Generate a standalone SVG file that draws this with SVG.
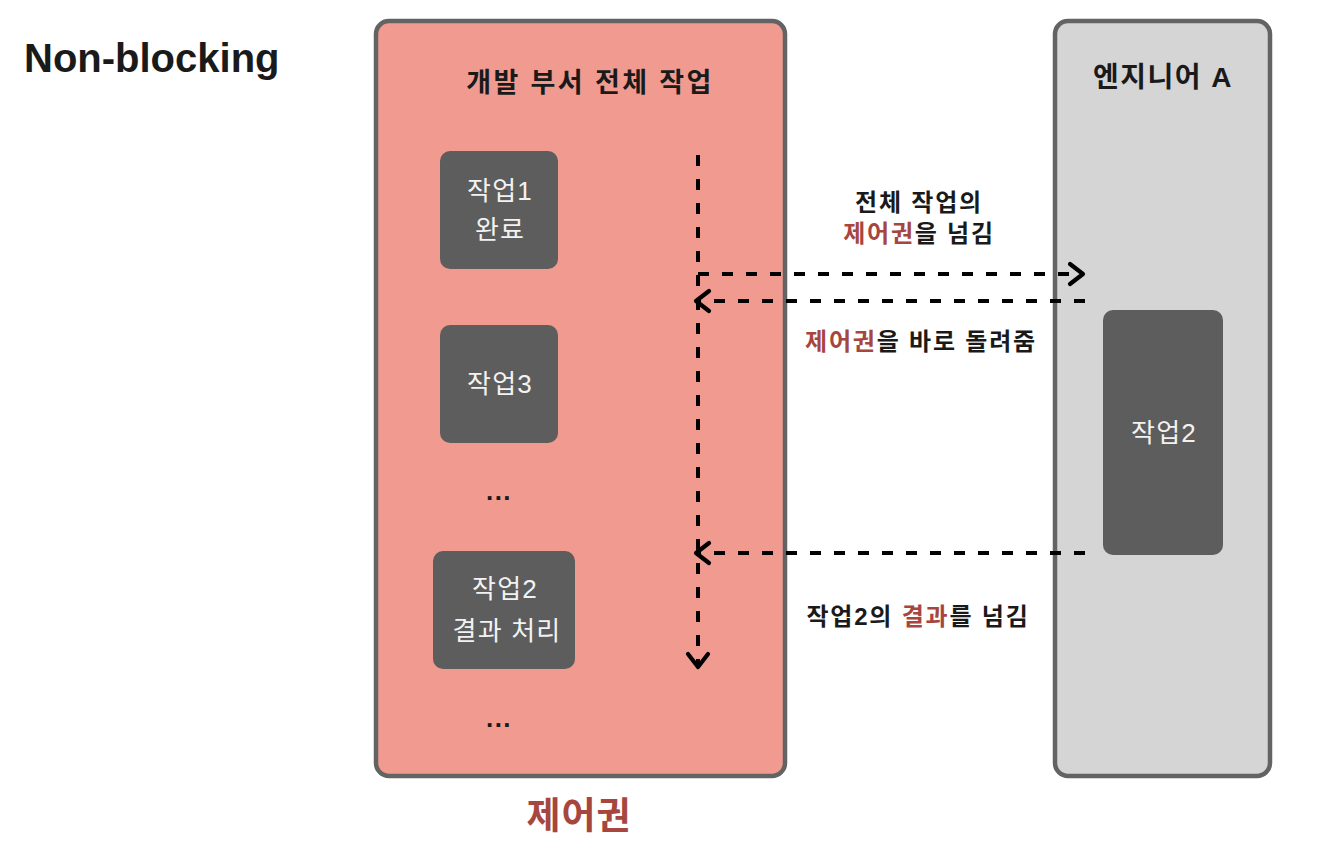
<svg xmlns="http://www.w3.org/2000/svg" width="1340" height="850" viewBox="0 0 1340 850">
<defs>
<style>
.t{font-family:"Liberation Sans","Noto Sans CJK KR",sans-serif;}
.b{font-weight:bold;}
.dark{fill:#1a1a1a;}
.red{fill:#A6463E;}
.white{fill:#f2f2f2;}
.panel{stroke:#636363;stroke-width:4.5;}
.task{fill:#5d5d5d;}
.dash{fill:none;stroke:#000;stroke-width:4;stroke-dasharray:11 13;}
.lab{font-size:24px;letter-spacing:1.8px;}
.tt{font-size:26px;letter-spacing:1.2px;}
</style>
<marker id="arr" viewBox="0 0 26 26" refX="20" refY="13" markerWidth="26" markerHeight="26" markerUnits="userSpaceOnUse" orient="auto">
<path d="M7,3 L20,13 L7,23" fill="none" stroke="#000" stroke-width="4.2" stroke-linecap="round" stroke-linejoin="round"/>
</marker>
</defs>
<rect width="1340" height="850" fill="#fff"/>
<text class="t b dark" x="24" y="72" font-size="40">Non-blocking</text>

<g id="dept">
<rect class="panel" x="376" y="21" width="409" height="755" rx="13" fill="#F09A90"/>
<text class="t b dark" x="590" y="92" font-size="27" letter-spacing="2.4" text-anchor="middle">개발 부서 전체 작업</text>
</g>
<g id="task1">
<rect class="task" x="440" y="151" width="118" height="118" rx="10"/>
<text class="t white tt" x="500" y="200" text-anchor="middle">작업1</text>
<text class="t white tt" x="500" y="239" text-anchor="middle">완료</text>
</g>
<g id="task3">
<rect class="task" x="440" y="325" width="118" height="118" rx="10"/>
<text class="t white tt" x="500" y="393" text-anchor="middle">작업3</text>
</g>
<text class="t b dark" x="499" y="500" font-size="26" letter-spacing="1.5" text-anchor="middle">...</text>
<g id="task2result">
<rect class="task" x="433" y="551" width="142" height="118" rx="10"/>
<text class="t white tt" x="505" y="598" text-anchor="middle">작업2</text>
<text class="t white tt" x="507" y="640" text-anchor="middle">결과 처리</text>
</g>
<text class="t b dark" x="499" y="727" font-size="26" letter-spacing="1.5" text-anchor="middle">...</text>
<text class="t b red" x="579" y="829" font-size="37" letter-spacing="1" text-anchor="middle">제어권</text>

<g id="engineer">
<rect class="panel" x="1055" y="21" width="215" height="755" rx="13" fill="#D5D5D5"/>
<text class="t b dark" x="1163" y="87" font-size="28" letter-spacing="1.5" text-anchor="middle">엔지니어 A</text>
</g>
<g id="task2">
<rect class="task" x="1103" y="310" width="120" height="245" rx="10"/>
<text class="t white tt" x="1164" y="442" text-anchor="middle">작업2</text>
</g>

<g id="connectors">
<path class="dash" d="M698,155 V667" marker-end="url(#arr)"/>
<path class="dash" d="M698,274 H1083" marker-end="url(#arr)"/>
<path class="dash" d="M1085,301 H696" marker-end="url(#arr)"/>
<path class="dash" d="M1085,553 H696" marker-end="url(#arr)"/>
</g>

<g id="labels">
<text class="t b dark lab" x="919" y="211" text-anchor="middle">전체 작업의</text>
<text class="t b lab" x="919" y="242" text-anchor="middle"><tspan class="red">제어권</tspan><tspan class="dark">을 넘김</tspan></text>
<text class="t b lab" x="921" y="350" text-anchor="middle"><tspan class="red">제어권</tspan><tspan class="dark">을 바로 돌려줌</tspan></text>
<text class="t b lab" x="918" y="625" text-anchor="middle"><tspan class="dark">작업2의 </tspan><tspan class="red">결과</tspan><tspan class="dark">를 넘김</tspan></text>
</g>
</svg>
